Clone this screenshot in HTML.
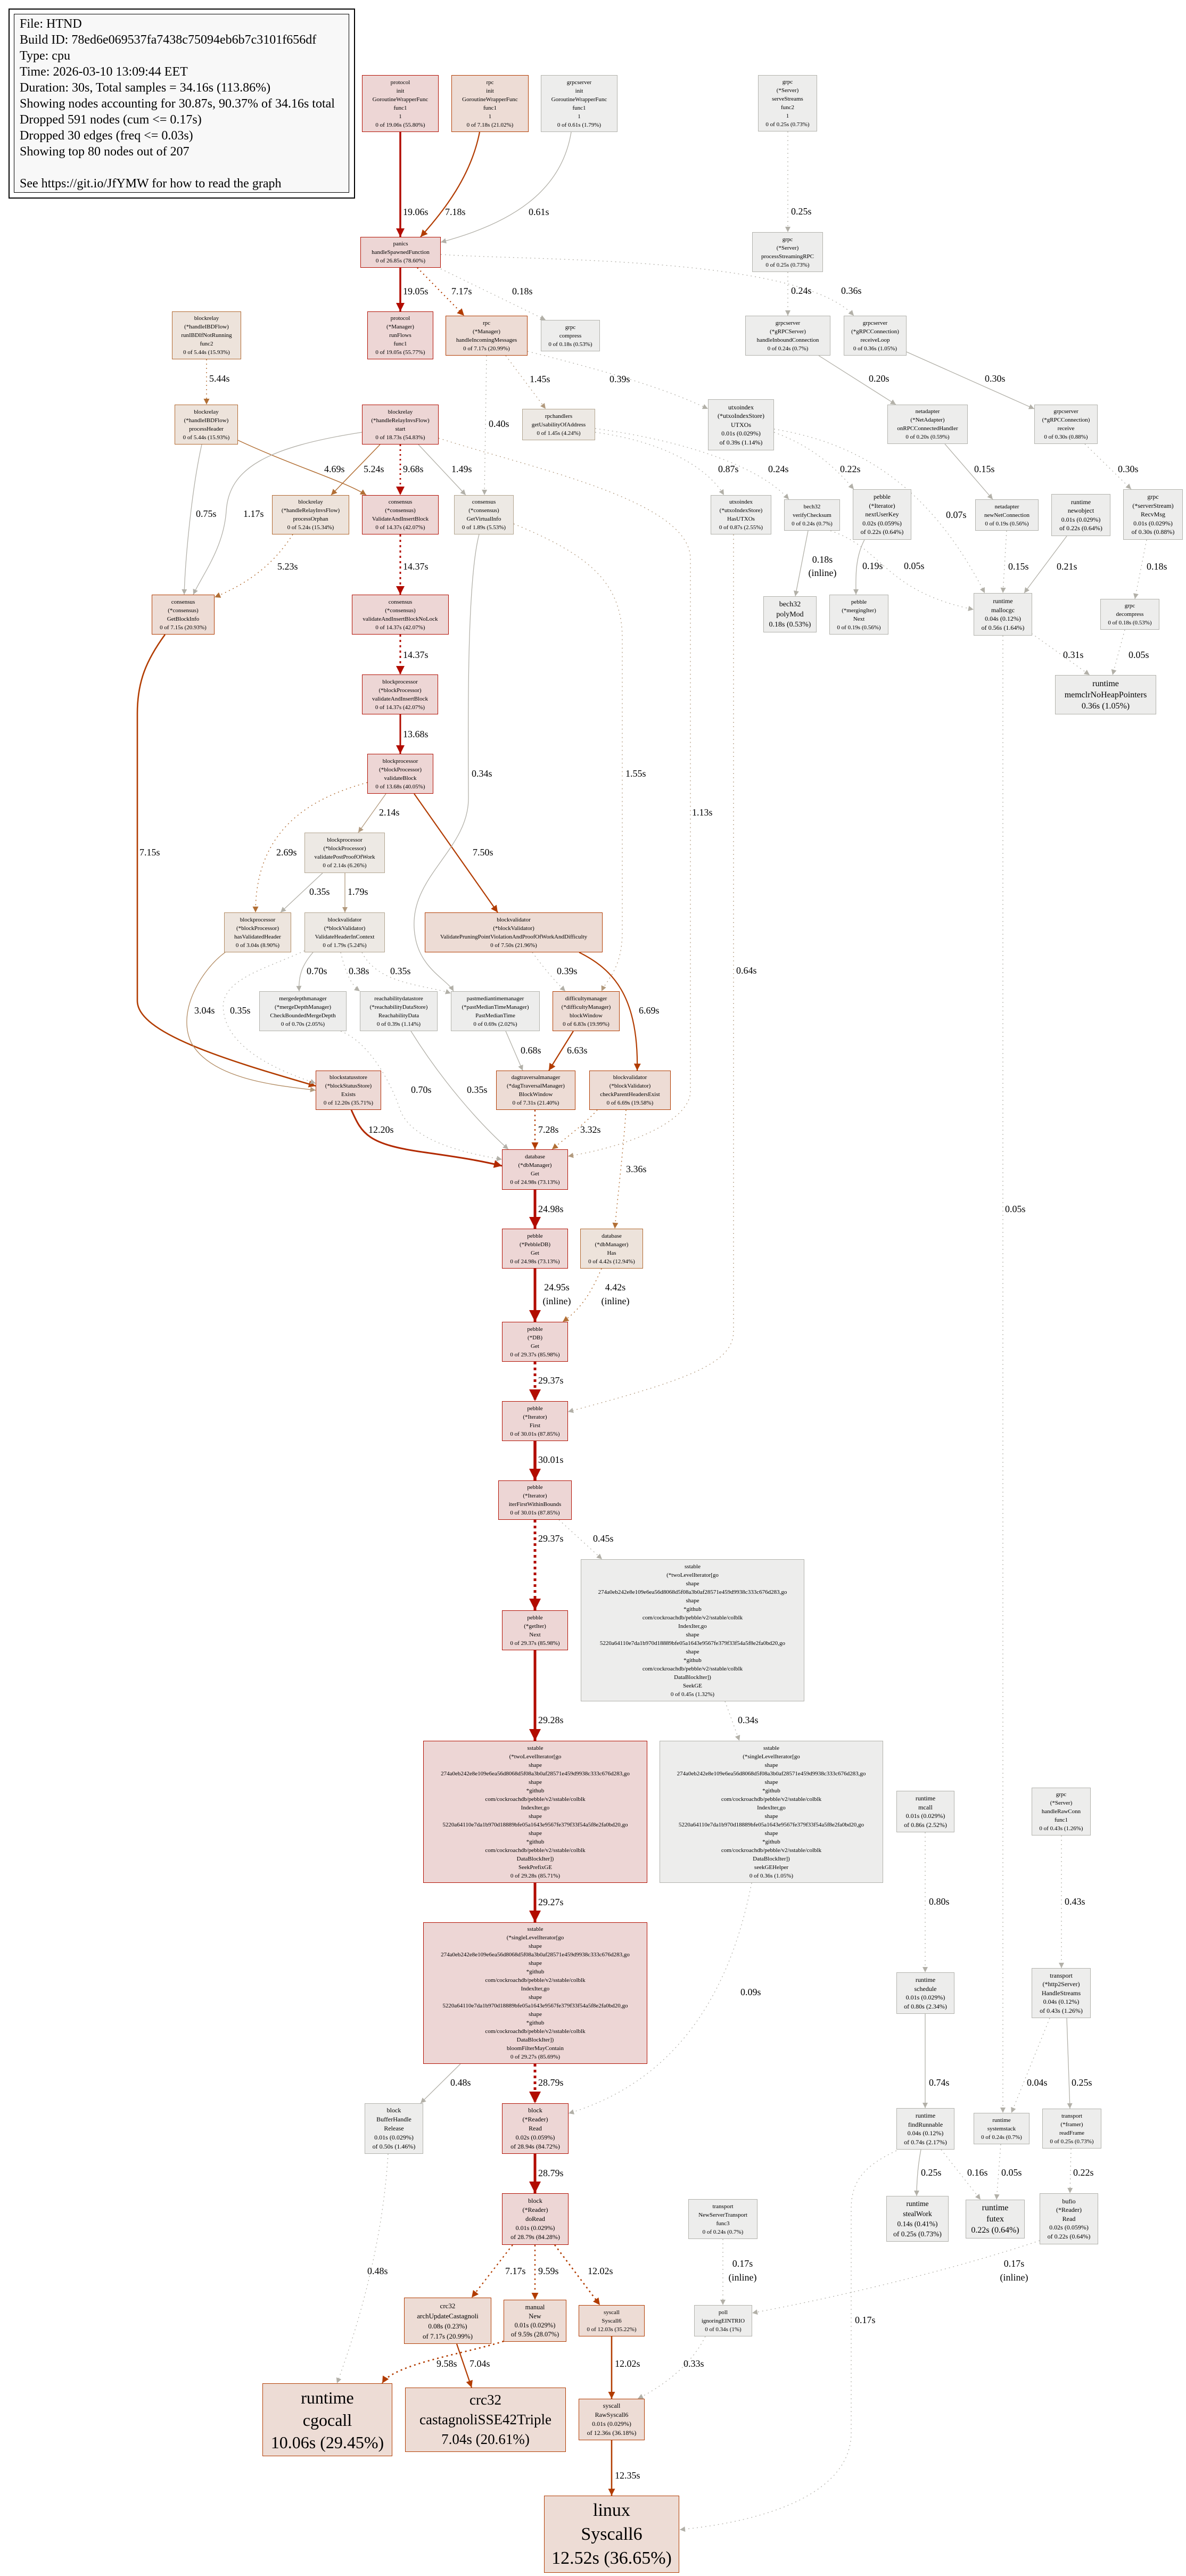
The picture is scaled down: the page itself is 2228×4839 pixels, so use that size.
<!DOCTYPE html>
<html><head><meta charset="utf-8">
<style>
html,body{margin:0;padding:0;background:#fff}
body{width:2228px;height:4839px;position:relative;overflow:hidden;font-family:"Liberation Serif",serif}
svg{position:absolute;left:0;top:0}
.n{position:absolute;box-sizing:border-box;border:1.5px solid;display:flex;align-items:center;justify-content:center;text-align:center;font-size:11px;line-height:16px;color:#000;white-space:nowrap}
.R{background:#edd6d5;border-color:#b20e00}
.X{background:#edd9d5;border-color:#b22900}
.O{background:#eddcd5;border-color:#b23c00}
.T{background:#ede3db;border-color:#b2682f}
.H{background:#ede5de;border-color:#b28b62}
.B{background:#ede9e4;border-color:#b2a48f}
.G{background:#ededec;border-color:#b2b2ac}
.m{font-size:12px;line-height:16.5px}
path{fill:none}
.g{stroke:#b2b0a8;stroke-width:1.3}
.b{stroke:#b29a7e;stroke-width:1.3}
.t{stroke:#b26f35;stroke-width:1.5}
.o{stroke:#b23c00;stroke-width:2.2}
.r{stroke:#b20c00}
.d{stroke-dasharray:2 6}
text{font-family:"Liberation Serif",serif;font-size:18px;fill:#000}
</style></head><body>

<div style="position:absolute;left:16px;top:16px;width:651px;height:357px;box-sizing:border-box;border:2px solid #000;background:#fff"></div>
<div style="position:absolute;left:26px;top:26px;width:630px;height:336px;box-sizing:border-box;border:1px solid #000;background:#f8f8f8"></div>
<div style="position:absolute;left:37px;top:30px;font-size:24px;line-height:30px;white-space:nowrap">File: HTND<br>Build ID: 78ed6e069537fa7438c75094eb6b7c3101f656df<br>Type: cpu<br>Time: 2026-03-10 13:09:44 EET<br>Duration: 30s, Total samples = 34.16s (113.86%)<br>Showing nodes accounting for 30.87s, 90.37% of 34.16s total<br>Dropped 591 nodes (cum &lt;= 0.17s)<br>Dropped 30 edges (freq &lt;= 0.03s)<br>Showing top 80 nodes out of 207<br><br>See https://git.io/JfYMW for how to read the graph</div>

<svg width="2228" height="4839" viewBox="0 0 2228 4839">
<defs>
<marker id="mg" markerUnits="userSpaceOnUse" markerWidth="12" markerHeight="10" viewBox="0 0 10 10" refX="10" refY="5" orient="auto"><path d="M0,0L10,5L0,10z" style="fill:#b2b0a8;stroke:none"/></marker>
<marker id="mb" markerUnits="userSpaceOnUse" markerWidth="12" markerHeight="10" viewBox="0 0 10 10" refX="10" refY="5" orient="auto"><path d="M0,0L10,5L0,10z" style="fill:#b29a7e;stroke:none"/></marker>
<marker id="mt" markerUnits="userSpaceOnUse" markerWidth="13" markerHeight="11" viewBox="0 0 10 10" refX="10" refY="5" orient="auto"><path d="M0,0L10,5L0,10z" style="fill:#b26f35;stroke:none"/></marker>
<marker id="mo" markerUnits="userSpaceOnUse" markerWidth="16" markerHeight="13" viewBox="0 0 10 10" refX="10" refY="5" orient="auto"><path d="M0,0L10,5L0,10z" style="fill:#b23c00;stroke:none"/></marker>
<marker id="mx" markerUnits="userSpaceOnUse" markerWidth="18" markerHeight="15" viewBox="0 0 10 10" refX="10" refY="5" orient="auto"><path d="M0,0L10,5L0,10z" style="fill:#b22900;stroke:none"/></marker>
<marker id="mr" markerUnits="userSpaceOnUse" markerWidth="20" markerHeight="16" viewBox="0 0 10 10" refX="10" refY="5" orient="auto"><path d="M0,0L10,5L0,10z" style="fill:#b20c00;stroke:none"/></marker>
<marker id="mR" markerUnits="userSpaceOnUse" markerWidth="26" markerHeight="22" viewBox="0 0 10 10" refX="10" refY="5" orient="auto"><path d="M0,0L10,5L0,10z" style="fill:#b20c00;stroke:none"/></marker>
</defs>

<path class="r" style="stroke-width:3.5" d="M752,248L752,445" marker-end="url(#mr)"/>
<path class="o" d="M901,248C885,330 835,395 790,445" marker-end="url(#mo)"/>
<path class="g" d="M1073,248C1055,360 960,420 828,455" marker-end="url(#mg)"/>
<path class="r" style="stroke-width:3.5" d="M752,503L752,585" marker-end="url(#mr)"/>
<path class="o d" d="M784,503L872,593" marker-end="url(#mo)"/>
<path class="g d" d="M828,505L1025,601" marker-end="url(#mg)"/>
<path class="g d" d="M828,478C1000,490 1500,480 1604,593" marker-end="url(#mg)"/>
<path class="g d" d="M1480,247L1480,436" marker-end="url(#mg)"/>
<path class="g d" d="M1480,511L1480,593" marker-end="url(#mg)"/>
<path class="g" d="M1538,668L1683,760" marker-end="url(#mg)"/>
<path class="g" d="M1703,661L1943,768" marker-end="url(#mg)"/>
<path class="g" d="M1775,834L1865,938" marker-end="url(#mg)"/>
<path class="g d" d="M2038,834L2125,919" marker-end="url(#mg)"/>
<path class="g d" d="M2154,1014L2132,1125" marker-end="url(#mg)"/>
<path class="g d" d="M1891,997L1884,1114" marker-end="url(#mg)"/>
<path class="g" d="M2004,1007L1924,1114" marker-end="url(#mg)"/>
<path class="g d" d="M1938,1190L2047,1268" marker-end="url(#mg)"/>
<path class="g d" d="M2113,1183L2090,1268" marker-end="url(#mg)"/>
<path class="b d" d="M950,668L1025,768" marker-end="url(#mb)"/>
<path class="g d" d="M991,660C1150,700 1250,730 1330,768" marker-end="url(#mg)"/>
<path class="g d" d="M914,668L910,930" marker-end="url(#mg)"/>
<path class="g d" d="M1118,812C1250,830 1330,880 1360,930" marker-end="url(#mg)"/>
<path class="g d" d="M1118,805C1300,830 1430,880 1482,938" marker-end="url(#mg)"/>
<path class="g d" d="M1454,812C1530,840 1570,880 1604,919" marker-end="url(#mg)"/>
<path class="g d" d="M1454,806C1600,830 1740,900 1850,1114" marker-end="url(#mg)"/>
<path class="g" d="M1518,997L1494,1120" marker-end="url(#mg)"/>
<path class="g d" d="M1560,997C1660,1030 1660,1110 1829,1145" marker-end="url(#mg)"/>
<path class="g" d="M1624,1014C1605,1050 1608,1090 1608,1117" marker-end="url(#mg)"/>
<path class="t d" d="M388,675L388,760" marker-end="url(#mt)"/>
<path class="g" d="M379,835C360,920 348,1050 346,1117" marker-end="url(#mg)"/>
<path class="t" d="M447,827C550,875 650,905 688,930" marker-end="url(#mt)"/>
<path class="g" d="M680,812C500,840 430,880 425,960C420,1030 380,1080 363,1117" marker-end="url(#mg)"/>
<path class="t" d="M714,835L622,930" marker-end="url(#mt)"/>
<path class="r" style="stroke-width:2.8;stroke-dasharray:3 6" d="M752,835L752,930" marker-end="url(#mr)"/>
<path class="g" d="M786,835L875,930" marker-end="url(#mg)"/>
<path class="b d" d="M824,823C1000,880 1297,940 1297,1050L1297,2050C1297,2100 1200,2150 1067,2172" marker-end="url(#mb)"/>
<path class="t d" d="M550,1004C520,1050 480,1090 403,1122" marker-end="url(#mt)"/>
<path class="r" style="stroke-width:3;stroke-dasharray:4 6" d="M752,1004L752,1117" marker-end="url(#mr)"/>
<path class="r" style="stroke-width:3;stroke-dasharray:4 6" d="M752,1192L752,1267" marker-end="url(#mr)"/>
<path class="r" style="stroke-width:3" d="M752,1342L752,1416" marker-end="url(#mr)"/>
<path class="b" d="M725,1491L673,1564" marker-end="url(#mb)"/>
<path class="o" d="M778,1491L935,1714" marker-end="url(#mo)"/>
<path class="t d" d="M690,1470C580,1500 480,1560 480,1714" marker-end="url(#mt)"/>
<path class="g" d="M900,1004C875,1100 880,1400 880,1500C880,1600 760,1650 780,1760C790,1820 840,1840 852,1862" marker-end="url(#mg)"/>
<path class="b d" d="M965,984C1100,1040 1169,1090 1169,1200L1169,1750C1169,1820 1140,1840 1130,1862" marker-end="url(#mb)"/>
<path class="o" style="stroke-width:2.6" d="M310,1192C275,1240 258,1280 258,1340L258,1880C258,1940 420,1990 593,2040" marker-end="url(#mo)"/>
<path class="g" d="M606,1640L527,1714" marker-end="url(#mg)"/>
<path class="b" d="M648,1640L648,1714" marker-end="url(#mb)"/>
<path class="b" style="stroke:#b28b62" d="M423,1789C380,1820 330,1900 360,1960C400,2030 530,2040 593,2048" marker-end="url(#mb)"/>
<path class="g" d="M588,1789C570,1810 560,1830 562,1862" marker-end="url(#mg)"/>
<path class="g d" d="M640,1789C650,1830 660,1850 676,1862" marker-end="url(#mg)"/>
<path class="g d" d="M680,1789C710,1850 800,1850 847,1866" marker-end="url(#mg)"/>
<path class="g d" d="M572,1786C500,1820 410,1840 420,1900C430,1980 550,2020 593,2035" marker-end="url(#mg)"/>
<path class="g d" d="M640,1937C700,1960 740,2050 750,2080C770,2150 900,2170 943,2178" marker-end="url(#mg)"/>
<path class="g" d="M772,1937C830,2030 900,2110 955,2159" marker-end="url(#mg)"/>
<path class="g d" d="M1000,1789C1030,1830 1050,1850 1062,1862" marker-end="url(#mg)"/>
<path class="o" d="M1088,1789C1150,1820 1200,1870 1197,2011" marker-end="url(#mo)"/>
<path class="g" d="M950,1937L982,2011" marker-end="url(#mg)"/>
<path class="o" d="M1077,1937L1031,2011" marker-end="url(#mo)"/>
<path class="o" style="stroke-dasharray:3 6" d="M1005,2085L1005,2159" marker-end="url(#mo)"/>
<path class="t d" d="M1122,2085C1100,2110 1060,2140 1037,2159" marker-end="url(#mt)"/>
<path class="t d" d="M1176,2085C1172,2150 1160,2250 1155,2308" marker-end="url(#mt)"/>
<path style="stroke:#b22900;stroke-width:3" d="M660,2085C680,2130 690,2150 800,2165C870,2175 900,2180 943,2190" marker-end="url(#mx)"/>
<path class="r" style="stroke-width:5" d="M1005,2235L1005,2308" marker-end="url(#mR)"/>
<path class="r" style="stroke-width:5" d="M1005,2383L1005,2483" marker-end="url(#mR)"/>
<path class="t d" d="M1130,2383C1110,2430 1090,2460 1057,2483" marker-end="url(#mt)"/>
<path class="r" style="stroke-width:5;stroke-dasharray:5 6" d="M1005,2558L1005,2632" marker-end="url(#mR)"/>
<path class="b d" d="M1378,1004L1378,2500C1378,2560 1300,2590 1067,2652" marker-end="url(#mg)"/>
<path class="r" style="stroke-width:5.5" d="M1005,2707L1005,2781" marker-end="url(#mR)"/>
<path class="r" style="stroke-width:5;stroke-dasharray:5 6" d="M1005,2855L1005,3025" marker-end="url(#mR)"/>
<path class="g d" d="M1050,2855L1131,2929" marker-end="url(#mg)"/>
<path class="r" style="stroke-width:5" d="M1005,3100L1005,3270" marker-end="url(#mR)"/>
<path class="g d" d="M1362,3196L1389,3270" marker-end="url(#mg)"/>
<path class="r" style="stroke-width:5" d="M1005,3537L1005,3611" marker-end="url(#mR)"/>
<path class="g" d="M865,3877L790,3951" marker-end="url(#mg)"/>
<path class="r" style="stroke-width:5;stroke-dasharray:5 6" d="M1005,3877L1005,3951" marker-end="url(#mR)"/>
<path class="g d" d="M1412,3537C1380,3700 1300,3900 1068,3970" marker-end="url(#mg)"/>
<path class="r" style="stroke-width:5" d="M1005,4046L1005,4120" marker-end="url(#mR)"/>
<path class="o" style="stroke-dasharray:3 6" d="M963,4217L886,4316" marker-end="url(#mo)"/>
<path class="o" style="stroke-dasharray:3 6" d="M1005,4217L1005,4320" marker-end="url(#mo)"/>
<path class="o" style="stroke-width:2.6;stroke-dasharray:3 6" d="M1042,4217L1127,4330" marker-end="url(#mo)"/>
<path class="g d" d="M729,4046C720,4200 680,4350 633,4477" marker-end="url(#mg)"/>
<path class="o" style="stroke-width:2.6;stroke-dasharray:3 6" d="M946,4398C880,4420 740,4440 718,4477" marker-end="url(#mo)"/>
<path class="o" d="M858,4403L886,4485" marker-end="url(#mo)"/>
<path class="o" style="stroke-width:2.6" d="M1149,4389L1149,4506" marker-end="url(#mo)"/>
<path class="o" style="stroke-width:2.6" d="M1149,4584L1149,4688" marker-end="url(#mo)"/>
<path class="g d" d="M1325,4389C1300,4440 1250,4480 1198,4506" marker-end="url(#mg)"/>
<path class="g d" d="M1358,4206L1358,4330" marker-end="url(#mg)"/>
<path class="g d" d="M1953,4209C1800,4260 1600,4310 1413,4345" marker-end="url(#mg)"/>
<path class="g d" d="M1684,4040C1620,4070 1599,4100 1599,4150L1599,4570C1599,4680 1450,4735 1277,4752" marker-end="url(#mg)"/>
<path class="g d" d="M1884,1194L1884,3969" marker-end="url(#mg)"/>
<path class="g d" d="M1738,3442L1738,3705" marker-end="url(#mg)"/>
<path class="g" d="M1738,3783L1738,3960" marker-end="url(#mg)"/>
<path class="g" d="M1730,4038C1724,4070 1722,4100 1722,4125" marker-end="url(#mg)"/>
<path class="g d" d="M1768,4038L1842,4132" marker-end="url(#mg)"/>
<path class="g d" d="M1880,4028L1872,4132" marker-end="url(#mg)"/>
<path class="g d" d="M1994,3448L1994,3697" marker-end="url(#mg)"/>
<path class="g d" d="M1972,3791L1900,3969" marker-end="url(#mg)"/>
<path class="g" d="M2004,3791L2010,3961" marker-end="url(#mg)"/>
<path class="g d" d="M2012,4036L2010,4120" marker-end="url(#mg)"/>

<text x="757" y="404">19.06s</text><text x="836" y="404">7.18s</text><text x="993" y="404">0.61s</text>
<text x="757" y="553">19.05s</text><text x="848" y="553">7.17s</text><text x="962" y="553">0.18s</text>
<text x="1486" y="403">0.25s</text><text x="1486" y="552">0.24s</text><text x="1580" y="552">0.36s</text>
<text x="1632" y="717">0.20s</text><text x="1850" y="717">0.30s</text>
<text x="1830" y="887">0.15s</text><text x="2100" y="887">0.30s</text>
<text x="2154" y="1070">0.18s</text><text x="1894" y="1070">0.15s</text><text x="1985" y="1070">0.21s</text>
<text x="1997" y="1236">0.31s</text><text x="2120" y="1236">0.05s</text>
<text x="995" y="718">1.45s</text><text x="1145" y="718">0.39s</text><text x="918" y="802">0.40s</text>
<text x="1349" y="887">0.87s</text><text x="1443" y="887">0.24s</text><text x="1578" y="887">0.22s</text>
<text x="1777" y="973">0.07s</text>
<text x="1545" y="1057" text-anchor="middle">0.18s</text><text x="1545" y="1082" text-anchor="middle">(inline)</text>
<text x="1620" y="1069">0.19s</text><text x="1698" y="1069">0.05s</text>
<text x="393" y="717">5.44s</text>
<text x="368" y="971">0.75s</text><text x="457" y="971">1.17s</text>
<text x="609" y="887">4.69s</text><text x="683" y="887">5.24s</text><text x="757" y="887">9.68s</text><text x="848" y="887">1.49s</text>
<text x="521" y="1070">5.23s</text><text x="757" y="1070">14.37s</text><text x="757" y="1236">14.37s</text><text x="757" y="1385">13.68s</text>
<text x="712" y="1532">2.14s</text><text x="886" y="1459">0.34s</text><text x="1175" y="1459">1.55s</text><text x="1300" y="1532">1.13s</text>
<text x="1383" y="1829">0.64s</text>
<text x="262" y="1607">7.15s</text><text x="519" y="1607">2.69s</text><text x="888" y="1607">7.50s</text>
<text x="581" y="1681">0.35s</text><text x="653" y="1681">1.79s</text>
<text x="365" y="1904">3.04s</text><text x="432" y="1904">0.35s</text>
<text x="576" y="1830">0.70s</text><text x="655" y="1830">0.38s</text><text x="733" y="1830">0.35s</text>
<text x="1046" y="1830">0.39s</text><text x="1200" y="1904">6.69s</text>
<text x="978" y="1979">0.68s</text><text x="1065" y="1979">6.63s</text>
<text x="772" y="2053">0.70s</text><text x="877" y="2053">0.35s</text>
<text x="692" y="2128">12.20s</text><text x="1011" y="2128">7.28s</text><text x="1090" y="2128">3.32s</text>
<text x="1176" y="2202">3.36s</text>
<text x="1011" y="2277">24.98s</text><text x="1888" y="2277">0.05s</text>
<text x="1046" y="2424" text-anchor="middle">24.95s</text><text x="1046" y="2450" text-anchor="middle">(inline)</text>
<text x="1156" y="2424" text-anchor="middle">4.42s</text><text x="1156" y="2450" text-anchor="middle">(inline)</text>
<text x="1011" y="2599">29.37s</text><text x="1011" y="2748">30.01s</text>
<text x="1011" y="2896">29.37s</text><text x="1114" y="2896">0.45s</text>
<text x="1011" y="3237">29.28s</text><text x="1386" y="3237">0.34s</text>
<text x="1011" y="3579">29.27s</text><text x="1391" y="3748">0.09s</text>
<text x="846" y="3918">0.48s</text><text x="1011" y="3918">28.79s</text>
<text x="1011" y="4088">28.79s</text>
<text x="690" y="4272">0.48s</text><text x="949" y="4272">7.17s</text><text x="1011" y="4272">9.59s</text><text x="1104" y="4272">12.02s</text>
<text x="1395" y="4258" text-anchor="middle">0.17s</text><text x="1395" y="4284" text-anchor="middle">(inline)</text>
<text x="820" y="4446">9.58s</text><text x="882" y="4446">7.04s</text><text x="1155" y="4446">12.02s</text><text x="1284" y="4446">0.33s</text>
<text x="1155" y="4656">12.35s</text>
<text x="1606" y="4364">0.17s</text>
<text x="1905" y="4258" text-anchor="middle">0.17s</text><text x="1905" y="4284" text-anchor="middle">(inline)</text>
<text x="1745" y="3578">0.80s</text><text x="2000" y="3578">0.43s</text>
<text x="1745" y="3918">0.74s</text><text x="1929" y="3918">0.04s</text><text x="2013" y="3918">0.25s</text>
<text x="1730" y="4087">0.25s</text><text x="1817" y="4087">0.16s</text><text x="1881" y="4087">0.05s</text><text x="2016" y="4087">0.22s</text>
</svg>

<div class="n R" style="left:680px;top:141px;width:144px;height:107px">protocol<br>init<br>GoroutineWrapperFunc<br>func1<br>1<br>0 of 19.06s (55.80%)</div>
<div class="n O" style="left:848px;top:141px;width:145px;height:107px">rpc<br>init<br>GoroutineWrapperFunc<br>func1<br>1<br>0 of 7.18s (21.02%)</div>
<div class="n G" style="left:1016px;top:141px;width:144px;height:107px">grpcserver<br>init<br>GoroutineWrapperFunc<br>func1<br>1<br>0 of 0.61s (1.79%)</div>
<div class="n G" style="left:1424px;top:141px;width:111px;height:106px">grpc<br>(*Server)<br>serveStreams<br>func2<br>1<br>0 of 0.25s (0.73%)</div>
<div class="n R" style="left:677px;top:445px;width:151px;height:58px">panics<br>handleSpawnedFunction<br>0 of 26.85s (78.60%)</div>
<div class="n G" style="left:1413px;top:436px;width:133px;height:75px">grpc<br>(*Server)<br>processStreamingRPC<br>0 of 0.25s (0.73%)</div>
<div class="n T" style="left:323px;top:585px;width:130px;height:90px">blockrelay<br>(*handleIBDFlow)<br>runIBDIfNotRunning<br>func2<br>0 of 5.44s (15.93%)</div>
<div class="n R" style="left:690px;top:585px;width:124px;height:90px">protocol<br>(*Manager)<br>runFlows<br>func1<br>0 of 19.05s (55.77%)</div>
<div class="n O" style="left:837px;top:593px;width:154px;height:75px">rpc<br>(*Manager)<br>handleIncomingMessages<br>0 of 7.17s (20.99%)</div>
<div class="n G" style="left:1016px;top:601px;width:111px;height:59px">grpc<br>compress<br>0 of 0.18s (0.53%)</div>
<div class="n G" style="left:1400px;top:593px;width:160px;height:75px">grpcserver<br>(*gRPCServer)<br>handleInboundConnection<br>0 of 0.24s (0.7%)</div>
<div class="n G" style="left:1585px;top:593px;width:118px;height:75px">grpcserver<br>(*gRPCConnection)<br>receiveLoop<br>0 of 0.36s (1.05%)</div>
<div class="n T" style="left:328px;top:760px;width:119px;height:75px">blockrelay<br>(*handleIBDFlow)<br>processHeader<br>0 of 5.44s (15.93%)</div>
<div class="n R" style="left:680px;top:760px;width:144px;height:75px">blockrelay<br>(*handleRelayInvsFlow)<br>start<br>0 of 18.73s (54.83%)</div>
<div class="n B" style="left:981px;top:768px;width:137px;height:59px">rpchandlers<br>getUsabilityOfAddress<br>0 of 1.45s (4.24%)</div>
<div class="n G m" style="left:1330px;top:750px;width:124px;height:96px">utxoindex<br>(*utxoIndexStore)<br>UTXOs<br>0.01s (0.029%)<br>of 0.39s (1.14%)</div>
<div class="n G" style="left:1667px;top:760px;width:151px;height:74px">netadapter<br>(*NetAdapter)<br>onRPCConnectedHandler<br>0 of 0.20s (0.59%)</div>
<div class="n G" style="left:1943px;top:760px;width:119px;height:74px">grpcserver<br>(*gRPCConnection)<br>receive<br>0 of 0.30s (0.88%)</div>
<div class="n T" style="left:511px;top:930px;width:145px;height:74px">blockrelay<br>(*handleRelayInvsFlow)<br>processOrphan<br>0 of 5.24s (15.34%)</div>
<div class="n R" style="left:680px;top:930px;width:144px;height:74px">consensus<br>(*consensus)<br>ValidateAndInsertBlock<br>0 of 14.37s (42.07%)</div>
<div class="n B" style="left:853px;top:930px;width:112px;height:74px">consensus<br>(*consensus)<br>GetVirtualInfo<br>0 of 1.89s (5.53%)</div>
<div class="n G" style="left:1335px;top:930px;width:114px;height:74px">utxoindex<br>(*utxoIndexStore)<br>HasUTXOs<br>0 of 0.87s (2.55%)</div>
<div class="n G" style="left:1473px;top:938px;width:105px;height:59px">bech32<br>verifyChecksum<br>0 of 0.24s (0.7%)</div>
<div class="n G m" style="left:1602px;top:919px;width:110px;height:95px">pebble<br>(*Iterator)<br>nextUserKey<br>0.02s (0.059%)<br>of 0.22s (0.64%)</div>
<div class="n G" style="left:1832px;top:938px;width:119px;height:59px">netadapter<br>newNetConnection<br>0 of 0.19s (0.56%)</div>
<div class="n G m" style="left:1975px;top:928px;width:111px;height:79px">runtime<br>newobject<br>0.01s (0.029%)<br>of 0.22s (0.64%)</div>
<div class="n G m" style="left:2110px;top:919px;width:112px;height:95px">grpc<br>(*serverStream)<br>RecvMsg<br>0.01s (0.029%)<br>of 0.30s (0.88%)</div>
<div class="n G" style="left:1434px;top:1120px;width:100px;height:68px;font-size:14px;line-height:19px">bech32<br>polyMod<br>0.18s (0.53%)</div>
<div class="n G" style="left:1558px;top:1117px;width:111px;height:75px">pebble<br>(*mergingIter)<br>Next<br>0 of 0.19s (0.56%)</div>
<div class="n G m" style="left:1829px;top:1114px;width:110px;height:80px">runtime<br>mallocgc<br>0.04s (0.12%)<br>of 0.56s (1.64%)</div>
<div class="n G" style="left:2067px;top:1125px;width:111px;height:58px">grpc<br>decompress<br>0 of 0.18s (0.53%)</div>
<div class="n G" style="left:1982px;top:1268px;width:190px;height:74px;font-size:16px;line-height:21px">runtime<br>memclrNoHeapPointers<br>0.36s (1.05%)</div>
<div class="n O" style="left:285px;top:1117px;width:118px;height:75px">consensus<br>(*consensus)<br>GetBlockInfo<br>0 of 7.15s (20.93%)</div>
<div class="n R" style="left:661px;top:1117px;width:182px;height:75px">consensus<br>(*consensus)<br>validateAndInsertBlockNoLock<br>0 of 14.37s (42.07%)</div>
<div class="n R" style="left:680px;top:1267px;width:143px;height:75px">blockprocessor<br>(*blockProcessor)<br>validateAndInsertBlock<br>0 of 14.37s (42.07%)</div>
<div class="n R" style="left:690px;top:1416px;width:124px;height:75px">blockprocessor<br>(*blockProcessor)<br>validateBlock<br>0 of 13.68s (40.05%)</div>
<div class="n B" style="left:572px;top:1564px;width:151px;height:76px">blockprocessor<br>(*blockProcessor)<br>validatePostProofOfWork<br>0 of 2.14s (6.26%)</div>
<div class="n H" style="left:421px;top:1714px;width:126px;height:75px">blockprocessor<br>(*blockProcessor)<br>hasValidatedHeader<br>0 of 3.04s (8.90%)</div>
<div class="n B" style="left:572px;top:1714px;width:151px;height:75px">blockvalidator<br>(*blockValidator)<br>ValidateHeaderInContext<br>0 of 1.79s (5.24%)</div>
<div class="n O" style="left:798px;top:1714px;width:334px;height:75px">blockvalidator<br>(*blockValidator)<br>ValidatePruningPointViolationAndProofOfWorkAndDifficulty<br>0 of 7.50s (21.96%)</div>
<div class="n G" style="left:487px;top:1862px;width:164px;height:75px">mergedepthmanager<br>(*mergeDepthManager)<br>CheckBoundedMergeDepth<br>0 of 0.70s (2.05%)</div>
<div class="n G" style="left:676px;top:1862px;width:146px;height:75px">reachabilitydatastore<br>(*reachabilityDataStore)<br>ReachabilityData<br>0 of 0.39s (1.14%)</div>
<div class="n G" style="left:847px;top:1862px;width:167px;height:75px">pastmediantimemanager<br>(*pastMedianTimeManager)<br>PastMedianTime<br>0 of 0.69s (2.02%)</div>
<div class="n O" style="left:1038px;top:1862px;width:126px;height:75px">difficultymanager<br>(*difficultyManager)<br>blockWindow<br>0 of 6.83s (19.99%)</div>
<div class="n X" style="left:593px;top:2011px;width:123px;height:74px">blockstatusstore<br>(*blockStatusStore)<br>Exists<br>0 of 12.20s (35.71%)</div>
<div class="n O" style="left:932px;top:2011px;width:149px;height:74px">dagtraversalmanager<br>(*dagTraversalManager)<br>BlockWindow<br>0 of 7.31s (21.40%)</div>
<div class="n O" style="left:1107px;top:2011px;width:153px;height:74px">blockvalidator<br>(*blockValidator)<br>checkParentHeadersExist<br>0 of 6.69s (19.58%)</div>
<div class="n R" style="left:943px;top:2159px;width:124px;height:76px">database<br>(*dbManager)<br>Get<br>0 of 24.98s (73.13%)</div>
<div class="n R" style="left:943px;top:2308px;width:124px;height:75px">pebble<br>(*PebbleDB)<br>Get<br>0 of 24.98s (73.13%)</div>
<div class="n T" style="left:1090px;top:2308px;width:118px;height:75px">database<br>(*dbManager)<br>Has<br>0 of 4.42s (12.94%)</div>
<div class="n R" style="left:943px;top:2483px;width:124px;height:75px">pebble<br>(*DB)<br>Get<br>0 of 29.37s (85.98%)</div>
<div class="n R" style="left:943px;top:2632px;width:124px;height:75px">pebble<br>(*Iterator)<br>First<br>0 of 30.01s (87.85%)</div>
<div class="n R" style="left:936px;top:2781px;width:138px;height:74px">pebble<br>(*Iterator)<br>iterFirstWithinBounds<br>0 of 30.01s (87.85%)</div>
<div class="n G" style="left:1091px;top:2929px;width:420px;height:267px">sstable<br>(*twoLevelIterator[go<br>shape<br>274a0eb242e8e109e6ea56d8068d5f08a3b0af28571e459d9938c333c676d283,go<br>shape<br>*github<br>com/cockroachdb/pebble/v2/sstable/colblk<br>IndexIter,go<br>shape<br>5220a64110e7da1b970d18889bfe05a1643e9567fe379f33f54a5f8e2fa0bd20,go<br>shape<br>*github<br>com/cockroachdb/pebble/v2/sstable/colblk<br>DataBlockIter])<br>SeekGE<br>0 of 0.45s (1.32%)</div>
<div class="n R" style="left:943px;top:3025px;width:124px;height:75px">pebble<br>(*getIter)<br>Next<br>0 of 29.37s (85.98%)</div>
<div class="n R" style="left:795px;top:3270px;width:421px;height:267px">sstable<br>(*twoLevelIterator[go<br>shape<br>274a0eb242e8e109e6ea56d8068d5f08a3b0af28571e459d9938c333c676d283,go<br>shape<br>*github<br>com/cockroachdb/pebble/v2/sstable/colblk<br>IndexIter,go<br>shape<br>5220a64110e7da1b970d18889bfe05a1643e9567fe379f33f54a5f8e2fa0bd20,go<br>shape<br>*github<br>com/cockroachdb/pebble/v2/sstable/colblk<br>DataBlockIter])<br>SeekPrefixGE<br>0 of 29.28s (85.71%)</div>
<div class="n G" style="left:1239px;top:3270px;width:420px;height:267px">sstable<br>(*singleLevelIterator[go<br>shape<br>274a0eb242e8e109e6ea56d8068d5f08a3b0af28571e459d9938c333c676d283,go<br>shape<br>*github<br>com/cockroachdb/pebble/v2/sstable/colblk<br>IndexIter,go<br>shape<br>5220a64110e7da1b970d18889bfe05a1643e9567fe379f33f54a5f8e2fa0bd20,go<br>shape<br>*github<br>com/cockroachdb/pebble/v2/sstable/colblk<br>DataBlockIter])<br>seekGEHelper<br>0 of 0.36s (1.05%)</div>
<div class="n G m" style="left:1684px;top:3364px;width:109px;height:78px">runtime<br>mcall<br>0.01s (0.029%)<br>of 0.86s (2.52%)</div>
<div class="n G" style="left:1938px;top:3358px;width:111px;height:90px">grpc<br>(*Server)<br>handleRawConn<br>func1<br>0 of 0.43s (1.26%)</div>
<div class="n R" style="left:795px;top:3611px;width:421px;height:266px">sstable<br>(*singleLevelIterator[go<br>shape<br>274a0eb242e8e109e6ea56d8068d5f08a3b0af28571e459d9938c333c676d283,go<br>shape<br>*github<br>com/cockroachdb/pebble/v2/sstable/colblk<br>IndexIter,go<br>shape<br>5220a64110e7da1b970d18889bfe05a1643e9567fe379f33f54a5f8e2fa0bd20,go<br>shape<br>*github<br>com/cockroachdb/pebble/v2/sstable/colblk<br>DataBlockIter])<br>bloomFilterMayContain<br>0 of 29.27s (85.69%)</div>
<div class="n G m" style="left:1684px;top:3705px;width:109px;height:78px">runtime<br>schedule<br>0.01s (0.029%)<br>of 0.80s (2.34%)</div>
<div class="n G m" style="left:1938px;top:3697px;width:111px;height:94px">transport<br>(*http2Server)<br>HandleStreams<br>0.04s (0.12%)<br>of 0.43s (1.26%)</div>
<div class="n G m" style="left:685px;top:3951px;width:110px;height:95px;line-height:17px">block<br>BufferHandle<br>Release<br>0.01s (0.029%)<br>of 0.50s (1.46%)</div>
<div class="n R m" style="left:943px;top:3951px;width:125px;height:95px;line-height:17px">block<br>(*Reader)<br>Read<br>0.02s (0.059%)<br>of 28.94s (84.72%)</div>
<div class="n G m" style="left:1684px;top:3960px;width:109px;height:78px">runtime<br>findRunnable<br>0.04s (0.12%)<br>of 0.74s (2.17%)</div>
<div class="n G" style="left:1829px;top:3969px;width:105px;height:59px">runtime<br>systemstack<br>0 of 0.24s (0.7%)</div>
<div class="n G" style="left:1958px;top:3961px;width:111px;height:75px">transport<br>(*framer)<br>readFrame<br>0 of 0.25s (0.73%)</div>
<div class="n R m" style="left:943px;top:4120px;width:125px;height:97px;line-height:17px">block<br>(*Reader)<br>doRead<br>0.01s (0.029%)<br>of 28.79s (84.28%)</div>
<div class="n G" style="left:1293px;top:4131px;width:130px;height:75px">transport<br>NewServerTransport<br>func3<br>0 of 0.24s (0.7%)</div>
<div class="n G" style="left:1665px;top:4125px;width:117px;height:86px;font-size:13.5px;line-height:19px">runtime<br>stealWork<br>0.14s (0.41%)<br>of 0.25s (0.73%)</div>
<div class="n G" style="left:1814px;top:4132px;width:111px;height:73px;font-size:16px;line-height:21px">runtime<br>futex<br>0.22s (0.64%)</div>
<div class="n G m" style="left:1953px;top:4120px;width:110px;height:96px">bufio<br>(*Reader)<br>Read<br>0.02s (0.059%)<br>of 0.22s (0.64%)</div>
<div class="n O" style="left:759px;top:4316px;width:164px;height:87px;font-size:13px;line-height:19px">crc32<br>archUpdateCastagnoli<br>0.08s (0.23%)<br>of 7.17s (20.99%)</div>
<div class="n O" style="left:946px;top:4320px;width:118px;height:79px;font-size:12.5px;line-height:17px">manual<br>New<br>0.01s (0.029%)<br>of 9.59s (28.07%)</div>
<div class="n O" style="left:1087px;top:4330px;width:124px;height:59px">syscall<br>Syscall6<br>0 of 12.03s (35.22%)</div>
<div class="n G" style="left:1304px;top:4330px;width:109px;height:59px">poll<br>ignoringEINTRIO<br>0 of 0.34s (1%)</div>
<div class="n O" style="left:493px;top:4477px;width:244px;height:137px;font-size:32px;line-height:42px">runtime<br>cgocall<br>10.06s (29.45%)</div>
<div class="n O" style="left:761px;top:4485px;width:302px;height:121px;font-size:27px;line-height:37px">crc32<br>castagnoliSSE42Triple<br>7.04s (20.61%)</div>
<div class="n O m" style="left:1087px;top:4506px;width:124px;height:78px;line-height:17px">syscall<br>RawSyscall6<br>0.01s (0.029%)<br>of 12.36s (36.18%)</div>
<div class="n O" style="left:1022px;top:4688px;width:254px;height:145px;font-size:34px;line-height:45px">linux<br>Syscall6<br>12.52s (36.65%)</div>

</body></html>
